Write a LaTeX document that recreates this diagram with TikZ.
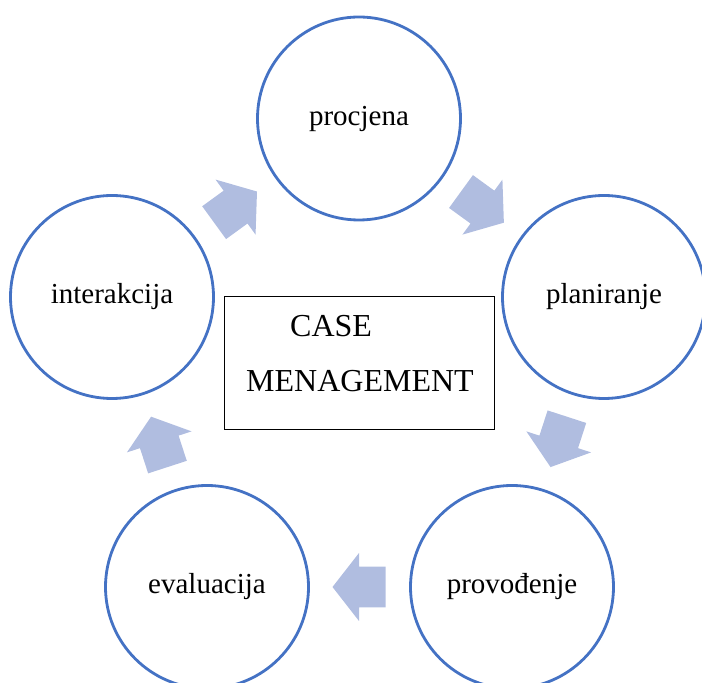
\documentclass[tikz,border=0pt]{standalone}
\usepackage{fontspec}
\setmainfont{Liberation Serif}
\definecolor{ringblue}{RGB}{68,114,196}
\definecolor{arrowblue}{RGB}{176,189,224}
\tikzset{
  stage/.style={circle, draw=ringblue, line width=2.8pt, minimum size=203pt, inner sep=0pt,
    font=\fontsize{29}{34}\selectfont},
  casebox/.style={draw, line width=0.9pt, minimum width=270pt, minimum height=133pt, inner sep=0pt},
  casetext/.style={anchor=base west, inner sep=0pt, font=\fontsize{32}{38}\selectfont}
}
\begin{document}
\begin{tikzpicture}[x=1pt, y=1pt]
\useasboundingbox (0,0) rectangle (702,683);

\node[stage] (procjena) at (359,564.5) {procjena};
\node[stage] (planiranje) at (604,386) {planiranje};
\node[stage] (provodjenje) at (512,96) {provođenje};
\node[stage] (evaluacija) at (207,96) {evaluacija};
\node[stage] (interakcija) at (112,386) {interakcija};

\node[casebox] (box) at (359,320.5) {};
\node[casetext] (case) at (290,346) {CASE};
\node[casetext] (menagement) at (246,291) {MENAGEMENT};

% block arrows round the cycle
\foreach \a in {126,54,-18,-90,-162}
{
    \fill[arrowblue, shift={({359+210*cos(\a)},{306+210*sin(\a)})}, rotate=\a-90]
      (-26.5,-20.3)--(0,-20.3)--(0,-34)--(26.5,0)--(0,34)--(0,20.3)--(-26.5,20.3)--cycle;
}
\end{tikzpicture}
\end{document}
